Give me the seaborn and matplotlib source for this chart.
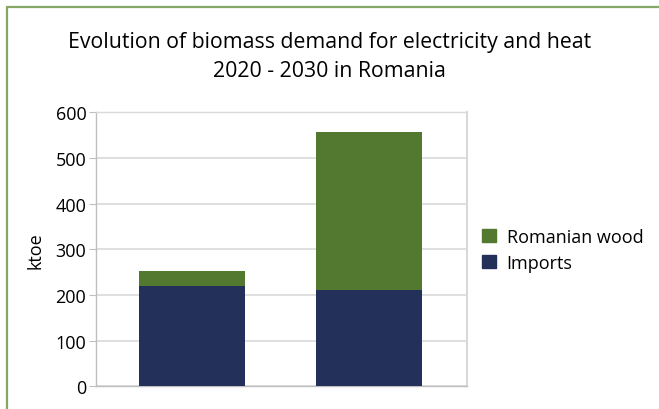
import pandas as pd
import matplotlib.pyplot as plt
import matplotlib.patches as mpatches
import seaborn as sns

# Values (ktoe)
years = ["2020", "2030"]
imports = [220, 211]
romanian_wood = [33, 346]

NAVY = "#22305A"
GREEN = "#53782F"

df = pd.DataFrame({"year": years, "imports": imports, "wood": romanian_wood})
df["total"] = df["imports"] + df["wood"]

sns.set_style("white")
plt.rcParams["font.family"] = ["Open Sans", "DejaVu Sans"]
plt.rcParams["text.color"] = "black"
plt.rcParams["ytick.labelcolor"] = "black"
plt.rcParams["axes.labelcolor"] = "black"

fig = plt.figure(figsize=(6.59, 4.10), dpi=100)
ax = fig.add_axes([96 / 659, 1 - 387.3 / 410, 371 / 659, 274 / 410])

# stacked: draw totals (green) then imports (navy) over them
sns.barplot(data=df, x="year", y="total", color=GREEN, width=0.6,
            saturation=1, linewidth=0, ax=ax, zorder=3)
sns.barplot(data=df, x="year", y="imports", color=NAVY, width=0.6,
            saturation=1, linewidth=0, ax=ax, zorder=3)

ax.set_xlim(-0.54, 1.555)
ax.set_ylim(0, 600)
ax.set_yticks(range(0, 601, 100))
ax.set_xticks([])
ax.set_xlabel("")
ax.set_ylabel("ktoe", fontsize=13, labelpad=8)
ax.tick_params(axis="y", labelsize=13, length=5, color="#BFBFBF", left=True, pad=2)
ax.yaxis.grid(True, color="#D9D9D9", linewidth=1.2, zorder=0)
for side in ["left", "bottom", "right", "top"]:
    ax.spines[side].set_color("#BFBFBF")
    ax.spines[side].set_linewidth(1.0)
ax.spines["top"].set_color("#D9D9D9")
ax.spines["right"].set_color("#D9D9D9")
ax.spines["right"].set_linewidth(1.5)

fig.text(0.5, 1 - 57 / 410, "Evolution of biomass demand for electricity and heat\n2020 - 2030 in Romania",
         ha="center", va="center", fontsize=15.3, linespacing=1.45)

handles = [mpatches.Patch(color=GREEN, label="Romanian wood"),
           mpatches.Patch(color=NAVY, label="Imports")]
fig.legend(handles=handles, loc="center left", bbox_to_anchor=(466 / 659, 1 - 251 / 410),
           frameon=False, fontsize=13, handlelength=0.75, handleheight=0.75,
           handletextpad=0.6, labelspacing=0.45)

# green frame around the chart (cropped at right and bottom)
frame = mpatches.Rectangle((7 / 659, -0.1), 1.2, 1 - 8 / 410 + 0.1, transform=fig.transFigure,
                           fill=False, edgecolor="#86A866", linewidth=1.6)
fig.patches.append(frame)

fig.savefig("out.png", dpi=100)
